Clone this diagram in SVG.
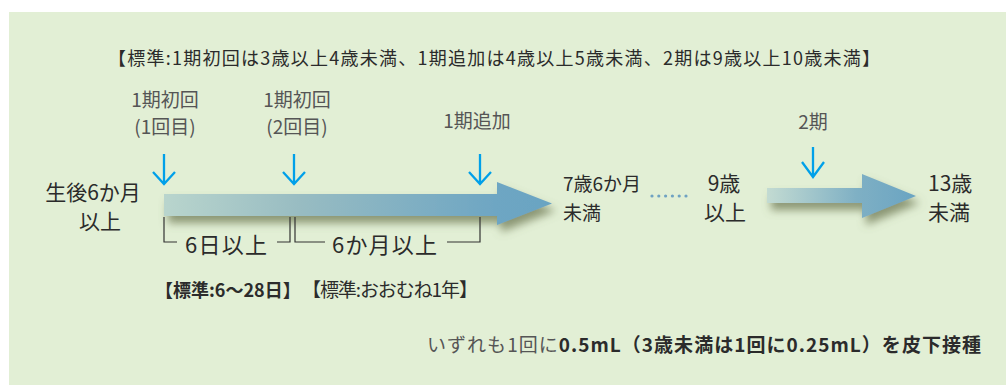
<svg xmlns="http://www.w3.org/2000/svg" xmlns:xlink="http://www.w3.org/1999/xlink" width="1006" height="385" viewBox="0 0 1006 385">
<style>
text{font-family:"Noto Sans CJK JP","Noto Sans",sans-serif;}
.dk{fill:#2b2b2b;}
.gy{fill:#555555;}
.br{fill:none;stroke:#333333;stroke-width:1.2;}
.dn{fill:none;stroke:#00a0e9;stroke-width:2.3;stroke-linecap:butt;}
</style>
<defs>
<linearGradient id="g1" x1="164" y1="0" x2="552" y2="0" gradientUnits="userSpaceOnUse">
<stop offset="0" stop-color="#b9d5cd"/>
<stop offset="0.35" stop-color="#98bcc2"/>
<stop offset="0.85" stop-color="#6ea6c3"/>
<stop offset="1" stop-color="#6aa4c2"/>
</linearGradient>
<linearGradient id="g2" x1="767" y1="0" x2="916" y2="0" gradientUnits="userSpaceOnUse">
<stop offset="0" stop-color="#c3dbd2"/>
<stop offset="0.6" stop-color="#7fb0c4"/>
<stop offset="1" stop-color="#6aa4c2"/>
</linearGradient>
<filter id="sh" x="-10%" y="-50%" width="125%" height="220%">
<feGaussianBlur in="SourceAlpha" stdDeviation="4"/>
<feOffset dx="4" dy="7" result="b"/>
<feFlood flood-color="#6f7a55" flood-opacity="0.75"/>
<feComposite in2="b" operator="in"/>
<feMerge><feMergeNode/><feMergeNode in="SourceGraphic"/></feMerge>
</filter>
<path id="dnArrow" d="M0,0 V30 M-11,18 L0,30 L11,18"/>
</defs>

<rect id="bg" x="9" y="12" width="997" height="373" fill="#e2efd5"/>

<g id="connectors">
<path id="mainArrow" d="M164,194 H497 V182 L552,203.5 L497,225 V216 H164 Z" fill="url(#g1)" filter="url(#sh)"/>
<path id="arrow2" d="M767,188 H862 V174 L916,196 L862,218 V203 H767 Z" fill="url(#g2)" filter="url(#sh)"/>
<g class="dn">
<use xlink:href="#dnArrow" transform="translate(164,154)"/>
<use xlink:href="#dnArrow" transform="translate(294,154)"/>
<use xlink:href="#dnArrow" transform="translate(480,154)"/>
<path d="M813,147 V177 M802,162 L813,177 L824,162"/>
</g>
<path class="br" d="M164,217 V242 H177 M277,242 H290 V217"/>
<path class="br" d="M295,217 V242 H325 M447,242 H480 V217"/>
<g fill="#6fa2c2">
<circle cx="652" cy="196" r="1.6"/><circle cx="658.8" cy="196" r="1.6"/><circle cx="665.6" cy="196" r="1.6"/><circle cx="672.4" cy="196" r="1.6"/><circle cx="679.2" cy="196" r="1.6"/><circle cx="686" cy="196" r="1.6"/>
</g>
</g>

<g id="header"><text class="dk" x="108" y="65" font-size="18" textLength="772" lengthAdjust="spacing">【標準:1期初回は3歳以上4歳未満、1期追加は4歳以上5歳未満、2期は9歳以上10歳未満】</text></g>

<g id="dose1"><text class="gy" font-size="19" text-anchor="middle"><tspan x="165" y="107">1期初回</tspan><tspan x="165" y="134">(1回目)</tspan></text></g>
<g id="dose2"><text class="gy" font-size="19" text-anchor="middle"><tspan x="297" y="107">1期初回</tspan><tspan x="297" y="134">(2回目)</tspan></text></g>
<g id="dose3"><text class="gy" font-size="19" text-anchor="middle" x="477" y="128">1期追加</text></g>
<g id="dose4"><text class="gy" font-size="19" text-anchor="middle" x="813" y="129">2期</text></g>

<g id="start"><text class="dk" font-size="21" text-anchor="middle"><tspan x="93" y="200">生後6か月</tspan><tspan x="100" y="229">以上</tspan></text></g>
<g id="end1"><text class="dk" font-size="19"><tspan x="563" y="191">7歳6か月</tspan><tspan x="563" y="220">未満</tspan></text></g>
<g id="start2"><text class="dk" font-size="21" text-anchor="middle"><tspan x="724" y="191">9歳</tspan><tspan x="725" y="220">以上</tspan></text></g>
<g id="end2"><text class="dk" font-size="21"><tspan x="928" y="191">13歳</tspan><tspan x="928" y="220">未満</tspan></text></g>

<g id="interval1"><text class="dk" font-size="22" x="185" y="253" textLength="82" lengthAdjust="spacing">6日以上</text></g>
<g id="interval2"><text class="dk" font-size="22" x="332" y="253" textLength="105" lengthAdjust="spacing">6か月以上</text></g>

<g id="std1"><text class="dk" font-size="18" font-weight="bold" x="155" y="297">【標準:6〜28日】</text></g>
<g id="std2"><text class="dk" font-size="19" x="302" y="297" textLength="176" lengthAdjust="spacing">【標準:おおむね1年】</text></g>

<g id="note"><text font-size="19" x="427" y="352" textLength="554" lengthAdjust="spacing"><tspan class="gy">いずれも1回に</tspan><tspan class="dk" font-weight="bold">0.5mL（3歳未満は1回に0.25mL）を皮下接種</tspan></text></g>
</svg>
